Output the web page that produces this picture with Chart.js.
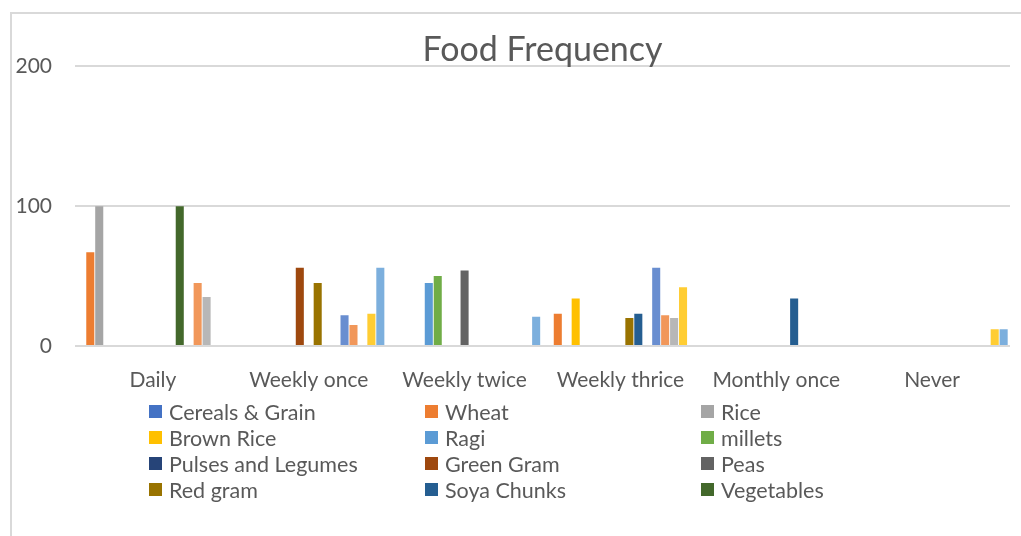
<!DOCTYPE html>
<html>
<head>
<meta charset="utf-8">
<script src="https://cdn.jsdelivr.net/npm/chart.js@4/dist/chart.umd.min.js"></script>
<style>
  html, body { margin: 0; padding: 0; background: #fff; width: 1021px; height: 536px; overflow: hidden; }
  #frame { position: absolute; left: 10px; top: 12px; width: 1100px; height: 600px; border: 2px solid #D9D9D9; box-sizing: border-box; }
  #wrap { position: absolute; left: 0; top: 0; width: 1021px; height: 536px; }
  #legend { position: absolute; left: 0; top: 0; width: 1021px; height: 536px; font-family: Lato, 'Open Sans', sans-serif; font-size: 21.5px; color: #595959; }
  .lg-item { position: absolute; height: 26px; line-height: 26px; white-space: nowrap; }
  .lg-box { position: absolute; left: 0; top: 6px; width: 13px; height: 13px; }
  .lg-text { position: absolute; left: 20px; top: 0; }
</style>
</head>
<body>
<div id="frame"></div>
<div id="wrap"><canvas id="chartFood" width="1021" height="536"></canvas></div>
<div id="legend"></div>
<script>
const categories = ['Daily', 'Weekly once', 'Weekly twice', 'Weekly thrice', 'Monthly once', 'Never'];

// one array per series, order = categories
const cerealsGrain = [null, null, null, null, null, null];
const wheat        = [67, null, null, 23, null, null];
const rice         = [100, null, null, null, null, null];
const brownRice    = [null, null, null, 34, null, null];
const ragi         = [null, null, 45, null, null, null];
const millets      = [null, null, 50, null, null, null];
const pulses       = [null, null, null, null, null, null];
const greenGram    = [null, 56, null, null, null, null];
const peas         = [null, null, 54, null, null, null];
const redGram      = [null, 45, null, 20, null, null];
const soyaChunks   = [null, null, null, 23, 34, null];
const vegetables   = [100, null, null, null, null, null];
const series13     = [null, 22, null, 56, null, null];
const series14     = [45, 15, null, 22, null, null];
const series15     = [35, null, null, 20, null, null];
const series16     = [null, 23, null, 42, null, 12];
const series17     = [null, 56, 21, null, null, 12];

const seriesNames = ['Cereals & Grain', 'Wheat', 'Rice', 'Brown Rice', 'Ragi', 'millets',
  'Pulses and Legumes', 'Green Gram', 'Peas', 'Red gram', 'Soya Chunks', 'Vegetables',
  'Series13', 'Series14', 'Series15', 'Series16', 'Series17'];
const seriesValues = [cerealsGrain, wheat, rice, brownRice, ragi, millets, pulses, greenGram,
  peas, redGram, soyaChunks, vegetables, series13, series14, series15, series16, series17];
const seriesColors = ['#4472C4', '#ED7D31', '#A5A5A5', '#FFC000', '#5B9BD5', '#70AD47',
  '#264478', '#9E480E', '#636363', '#997300', '#255E91', '#43682B',
  '#698ED0', '#F1975A', '#B7B7B7', '#FFCD33', '#7CAFDD'];
const yTicks = [0, 100, 200];

// only the first 12 series fit in the legend box
const LEGEND_COUNT = 12;

const FONT = "Lato, 'Open Sans', sans-serif";
const TEXT = '#595959';
const GRID = '#D9D9D9';

let _chart = null;

function buildLegend(chart) {
  const box = document.getElementById('legend');
  box.innerHTML = '';
  chart.data.datasets.slice(0, LEGEND_COUNT).forEach((ds, i) => {
    const col = i % 3;
    const row = Math.floor(i / 3);
    const item = document.createElement('div');
    item.className = 'lg-item';
    item.style.left = (149 + col * 276) + 'px';
    item.style.top = (399 + row * 26) + 'px';
    const sw = document.createElement('span');
    sw.className = 'lg-box';
    sw.style.background = ds.backgroundColor;
    const tx = document.createElement('span');
    tx.className = 'lg-text';
    tx.textContent = ds.label;
    item.appendChild(sw);
    item.appendChild(tx);
    box.appendChild(item);
  });
}

function init() {
  const ctx = document.getElementById('chartFood');
  if (!ctx || !window.Chart) return;
  if (_chart) _chart.destroy();
  _chart = new Chart(ctx.getContext('2d'), {
    type: 'bar',
    data: {
      labels: categories,
      datasets: seriesNames.map((name, i) => ({
        label: name,
        data: seriesValues[i],
        backgroundColor: seriesColors[i],
        borderWidth: 0,
        categoryPercentage: 0.976,
        barPercentage: 0.9
      }))
    },
    options: {
      responsive: false,
      animation: false,
      layout: { padding: { top: 34, left: 0, right: 11, bottom: 141.6 } },
      plugins: {
        legend: { display: false },
        tooltip: { enabled: false },
        title: {
          display: true,
          fullSize: false,
          text: 'Food Frequency',
          color: TEXT,
          font: { family: FONT, size: 34, weight: 'normal', lineHeight: 0.95 },
          padding: { top: 0, bottom: 0 }
        }
      },
      scales: {
        x: {
          grid: { display: false, drawTicks: false },
          border: { display: false },
          afterFit: (scale) => { scale.height = 48.4; },
          ticks: { color: TEXT, font: { family: FONT, size: 21, lineHeight: 1.2 }, padding: 22, maxRotation: 0 }
        },
        y: {
          min: yTicks[0],
          max: yTicks[yTicks.length - 1],
          afterBuildTicks: (scale) => { scale.ticks = yTicks.map(v => ({ value: v })); },
          afterFit: (scale) => { scale.width = 75; },
          grid: { color: GRID, lineWidth: 2, drawTicks: false },
          border: { display: false },
          ticks: { color: TEXT, font: { family: FONT, size: 21 }, padding: 23 }
        }
      }
    }
  });
  buildLegend(_chart);
}

init();
</script>
</body>
</html>
